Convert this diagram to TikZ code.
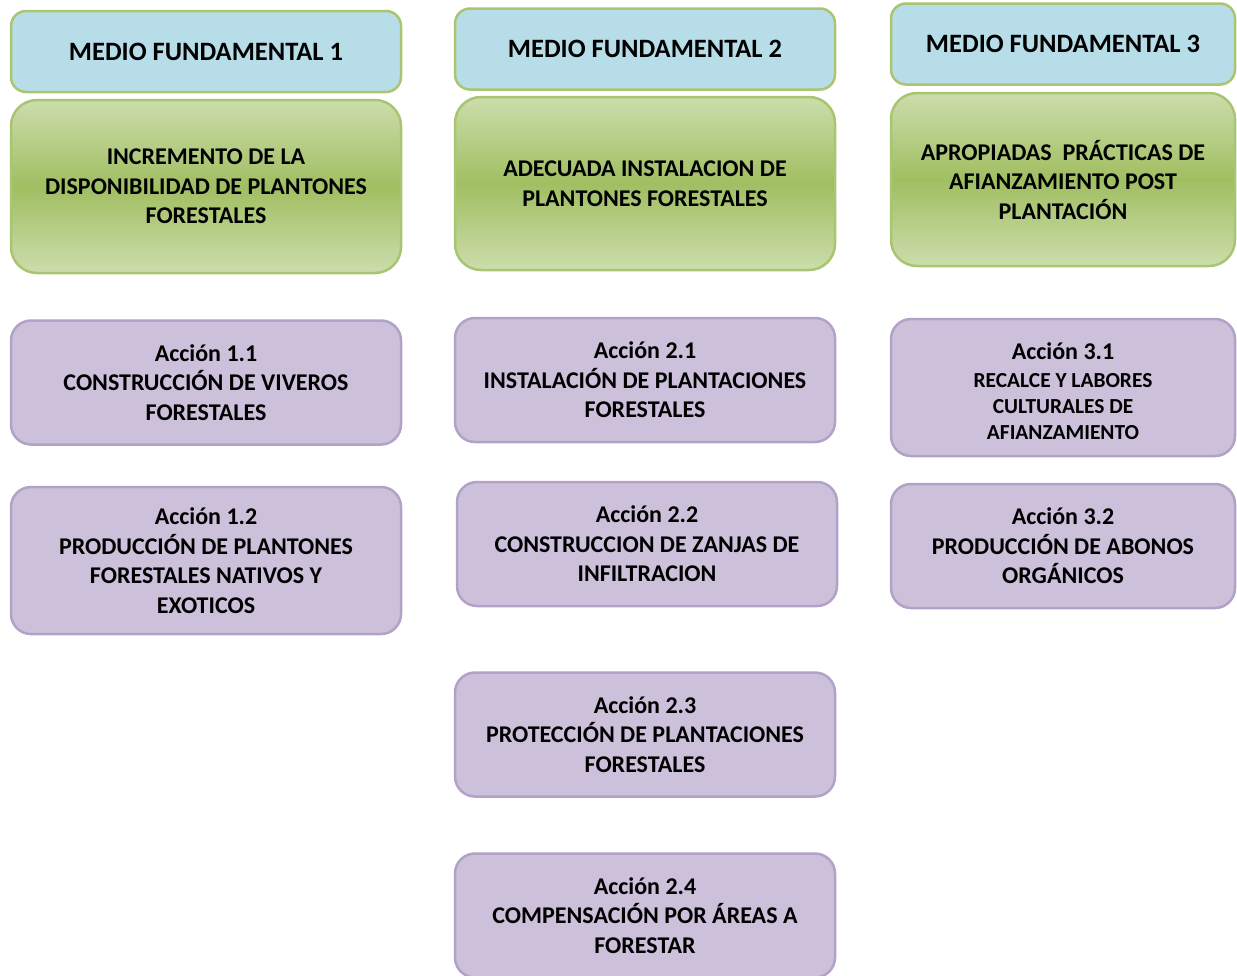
\documentclass[tikz,border=0pt]{standalone}
\usepackage{fontspec}
\setmainfont{Carlito}
\definecolor{mfblue}{HTML}{B7DDE8}
\definecolor{objgreen}{HTML}{9BBB59}
\definecolor{objlight}{HTML}{CCDDAC}
\definecolor{accfill}{HTML}{CCC0DA}
\definecolor{accline}{HTML}{B3A2C7}
\begin{document}
\begin{tikzpicture}[x=1pt, y=-1pt,
    box/.style = {shape=rectangle, align=center, inner sep=0pt,
      line width=2.5pt, font=\fontsize{24}{29.5}\selectfont\bfseries},
    mfbox/.style = {box, draw=objgreen!85, fill=mfblue,
      rounded corners=15pt, minimum height=81pt,
      font=\fontsize{26.5}{30}\selectfont\bfseries},
    objbox/.style = {box, draw=objgreen!85, rounded corners=26pt,
      top color=objlight, bottom color=objlight, middle color=objgreen!95,
      minimum height=173pt},
    accbox/.style = {box, draw=accline, fill=accfill,
      rounded corners=20pt, minimum height=124pt},
    colA/.style = {minimum width=390pt},
    colB/.style = {minimum width=380pt},
    colC/.style = {minimum width=344pt}]
    \useasboundingbox (0,0) rectangle (1237,975);
    % medios fundamentales
    \node[mfbox, colA] (mf1) at (206,51.5) {MEDIO FUNDAMENTAL 1};
    \node[mfbox, colB] (mf2) at (645,49) {MEDIO FUNDAMENTAL 2};
    \node[mfbox, colC] (mf3) at (1063,44) {MEDIO FUNDAMENTAL 3};
    % objetivos
    \node[objbox, colA] (obj1) at (206,186.5)
        {INCREMENTO DE LA \\ DISPONIBILIDAD DE PLANTONES \\ FORESTALES};
    \node[objbox, colB] (obj2) at (645,183.5)
        {ADECUADA INSTALACION DE \\ PLANTONES FORESTALES};
    \node[objbox, colC] (obj3) at (1063,179.5)
        {APROPIADAS\ \ PRÁCTICAS DE \\ AFIANZAMIENTO POST \\ PLANTACIÓN};
    % acciones
    \node[accbox, colA] (acc11) at (206,382.5)
        {Acción 1.1 \\ CONSTRUCCIÓN DE VIVEROS \\ FORESTALES};
    \node[accbox, colA, minimum height=147pt] (acc12) at (206,560.5)
        {Acción 1.2 \\ PRODUCCIÓN DE PLANTONES \\ FORESTALES NATIVOS Y \\ EXOTICOS};
    \node[accbox, colB] (acc21) at (645,380)
        {Acción 2.1 \\ INSTALACIÓN DE PLANTACIONES \\ FORESTALES};
    \node[accbox, colB] (acc22) at (647,544)
        {Acción 2.2 \\ CONSTRUCCION DE ZANJAS DE \\ INFILTRACION};
    \node[accbox, colB] (acc23) at (645,734.5)
        {Acción 2.3 \\ PROTECCIÓN DE PLANTACIONES \\ FORESTALES};
    \node[accbox, colB] (acc24) at (645,915.5)
        {Acción 2.4 \\ COMPENSACIÓN POR ÁREAS A \\ FORESTAR};
    \node[accbox, colC, minimum height=137pt,
        font=\fontsize{21.4}{26}\selectfont\bfseries] (acc31) at (1063,387.5)
        {\rule{0pt}{25pt}{\fontsize{24}{26}\selectfont Acción 3.1} \\[2pt]
         RECALCE Y LABORES \\ CULTURALES DE \\ AFIANZAMIENTO};
    \node[accbox, colC] (acc32) at (1063,546)
        {Acción 3.2 \\ PRODUCCIÓN DE ABONOS \\ ORGÁNICOS};
\end{tikzpicture}
\end{document}
